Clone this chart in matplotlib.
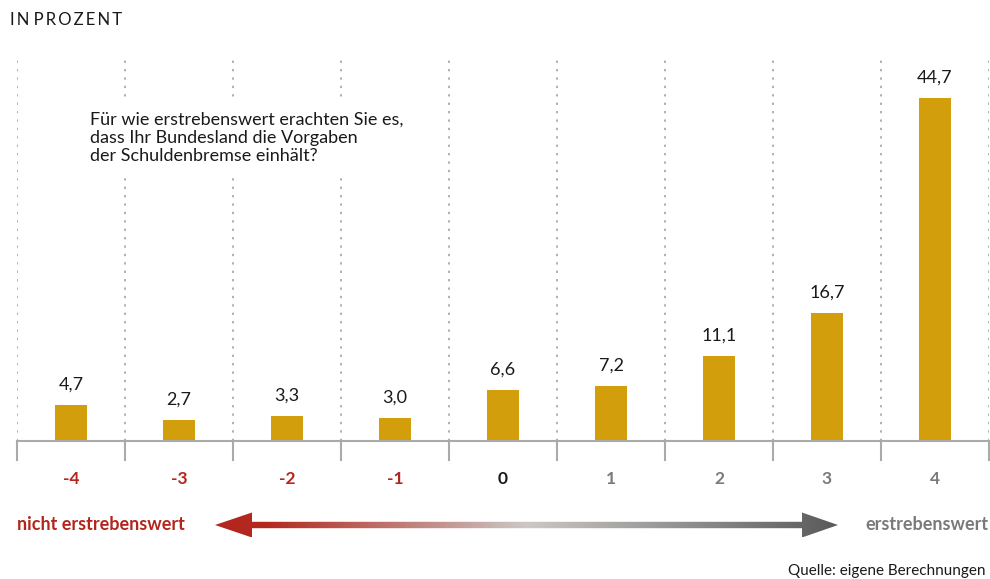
import numpy as np
import matplotlib
matplotlib.use("Agg")
from matplotlib import pyplot as plt
from matplotlib.colors import LinearSegmentedColormap
from matplotlib.patches import Polygon

plt.rcParams['font.family'] = ['Lato', 'DejaVu Sans']

categories = ["-4", "-3", "-2", "-1", "0", "1", "2", "3", "4"]
values = [4.7, 2.7, 3.3, 3.0, 6.6, 7.2, 11.1, 16.7, 44.7]
labels = ["4,7", "2,7", "3,3", "3,0", "6,6", "7,2", "11,1", "16,7", "44,7"]
tick_colors = ["#b3261e"] * 4 + ["#1a1a1a"] + ["#7a7a7a"] * 4

BAR = "#d39e0c"
GRID = "#9a9a9a"

fig = plt.figure(figsize=(9.9, 5.79), dpi=100)
W, H = 990, 579

# main chart area in pixel coordinates
left, right, top, base = 17, 989, 60, 441
ax = fig.add_axes([left / W, 1 - base / H, (right - left) / W, (base - top) / H])
x = np.arange(len(values))
ax.bar(x, values, width=0.29, color=BAR, zorder=3)
ax.set_xlim(-0.5, len(values) - 0.5)
ax.set_ylim(0, 49.7)
for xi, v, lab in zip(x, values, labels):
    ax.annotate(lab, (xi, v), xytext=(0, 9), textcoords="offset points",
                ha="center", va="bottom", fontsize=13, color="#1a1a1a")

for b in np.arange(-0.5, len(values), 1.0):
    ax.axvline(b, color=GRID, lw=1.1, ls=(0, (1.5, 4)), zorder=1)
ax.axhline(0, color="#aaaaaa", lw=1.5, zorder=4, clip_on=False)
ax.set_yticks([])
ax.set_xticks([])
for s in ax.spines.values():
    s.set_visible(False)

# overlay axes in pixel coordinates for the rest
ov = fig.add_axes([0, 0, 1, 1], zorder=5)
ov.set_xlim(0, W)
ov.set_ylim(H, 0)
ov.axis("off")
ov.patch.set_alpha(0)

# tick marks and category labels
for k in range(len(values) + 1):
    px = left + k * (right - left) / len(values)
    ov.plot([px, px], [base, 460], color="#aaaaaa", lw=1.5)
for k, (c, col) in enumerate(zip(categories, tick_colors)):
    px = left + (k + 0.5) * (right - left) / len(values)
    ov.text(px, 479, c, ha="center", va="center", fontsize=12.5,
            fontweight="bold", color=col)

ov.text(10, 20, "\u2009".join("IN") + " " + "\u2009".join("PROZENT"),
        ha="left", va="center", fontsize=12, color="#1a1a1a")

ov.text(90, 138, "Für wie erstrebenswert erachten Sie es,\n"
        "dass Ihr Bundesland die Vorgaben\n"
        "der Schuldenbremse einhält?", ha="left", va="center",
        fontsize=13, color="#1a1a1a", linespacing=1.18,
        bbox=dict(facecolor="white", edgecolor="none", pad=8))

# gradient arrow
ay = 525
tip_l, base_l, base_r, tip_r = 215, 252, 802, 838
hh, sh = 12.5, 3.2
pts = [(tip_l, ay), (base_l, ay - hh), (base_l, ay - sh), (base_r, ay - sh),
       (base_r, ay - hh), (tip_r, ay), (base_r, ay + hh), (base_r, ay + sh),
       (base_l, ay + sh), (base_l, ay + hh)]
poly = Polygon(pts, closed=True, facecolor="none", edgecolor="none")
ov.add_patch(poly)
cmap = LinearSegmentedColormap.from_list(
    "arr", [(0, "#b3261e"), (0.08, "#b3281f"), (0.5, "#cbc8c5"), (1, "#5a5a5a")])
grad = np.linspace(0, 1, 512).reshape(1, -1)
im = ov.imshow(grad, cmap=cmap, aspect="auto",
               extent=[tip_l, tip_r, ay + hh, ay - hh], interpolation="bilinear")
im.set_clip_path(poly)
ov.set_xlim(0, W)
ov.set_ylim(H, 0)

ov.text(17, 525, "nicht erstrebenswert", ha="left", va="center", fontsize=13,
        fontweight="bold", color="#b3261e")
ov.text(989, 525, "erstrebenswert", ha="right", va="center", fontsize=13,
        fontweight="bold", color="#7a7a7a")
ov.text(986, 571, "Quelle: eigene Berechnungen", ha="right", va="center",
        fontsize=11, color="#1a1a1a")

fig.savefig("out.png", dpi=100)
